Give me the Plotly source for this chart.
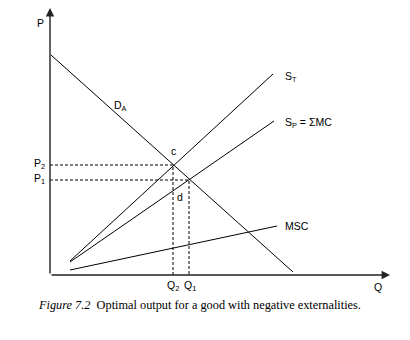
import plotly.graph_objects as go

# Data (Q, P) in chart units; origin at the axes corner
demand_q = [1, 243]
demand_p = [220, 3]
st_q = [20, 223]
st_p = [14, 201]
sp_q = [20, 224]
sp_p = [13, 154]
msc_q = [20, 227]
msc_p = [5, 49]
P2, P1 = 110, 95
Q2, Q1 = 123, 139
Q_MAX, P_MAX = 340, 267

line = dict(color="black", width=1)
fig = go.Figure()
for qx, py in [(demand_q, demand_p), (st_q, st_p), (sp_q, sp_p), (msc_q, msc_p)]:
    fig.add_trace(go.Scatter(x=qx, y=py, mode="lines", line=line, hoverinfo="skip", cliponaxis=False))

dash = dict(color="black", width=1, dash="3px,2px")
fig.add_trace(go.Scatter(x=[0, Q2, Q2], y=[P2, P2, 0], mode="lines", line=dash, cliponaxis=False))
fig.add_trace(go.Scatter(x=[0, Q1, Q1], y=[P1, P1, 0], mode="lines", line=dash, cliponaxis=False))

ann = []
# axes with arrows
ann.append(dict(x=0, y=P_MAX, ax=0, ay=0, xref="x", yref="y", axref="x", ayref="y",
                showarrow=True, arrowhead=2, arrowsize=1.2, arrowwidth=1.4, arrowcolor="#222", text=""))
ann.append(dict(x=Q_MAX, y=0, ax=0, ay=0, xref="x", yref="y", axref="x", ayref="y",
                showarrow=True, arrowhead=2, arrowsize=1.2, arrowwidth=1.4, arrowcolor="#222", text=""))

font = dict(family="Liberation Sans, Arial", size=10.5, color="black")
def lab(x, y, t, xa="center", ya="middle"):
    ann.append(dict(x=x / Q_MAX, y=y / P_MAX, text=t, showarrow=False, xref="paper", yref="paper",
                    font=font, xanchor=xa, yanchor=ya))

lab(-10, 252, "P")
lab(-3, P2 + 1, "P<sub>2</sub>", xa="right")
lab(-3, P1 + 1, "P<sub>1</sub>", xa="right")
lab(Q2, -11, "Q<sub>2</sub>")
lab(Q1 + 1, -11, "Q<sub>1</sub>")
lab(328, -12, "Q")
lab(70, 169, "D<sub>A</sub>")
lab(233, 198, "S<sub>T</sub>", xa="left")
lab(233, 152, "S<sub>P</sub> = ΣMC", xa="left")
lab(233, 49, "MSC", xa="left")
lab(Q2, 124, "c")
lab(Q2 + 7, 78, "d")

ann.append(dict(x=-14 / Q_MAX, y=-30 / P_MAX, xref="paper", yref="paper", showarrow=False,
                xanchor="left", yanchor="middle",
                text="<i>Figure 7.2</i>  Optimal output for a good with negative externalities.",
                font=dict(family="Liberation Serif, Times New Roman", size=12.3, color="black")))

fig.update_layout(
    width=410, height=340, margin=dict(l=50, r=20, t=8, b=65),
    paper_bgcolor="white", plot_bgcolor="white", showlegend=False,
    xaxis=dict(range=[0, Q_MAX], visible=False, fixedrange=True),
    yaxis=dict(range=[0, P_MAX], visible=False, fixedrange=True),
    annotations=ann,
)
fig.write_html("out.html")
